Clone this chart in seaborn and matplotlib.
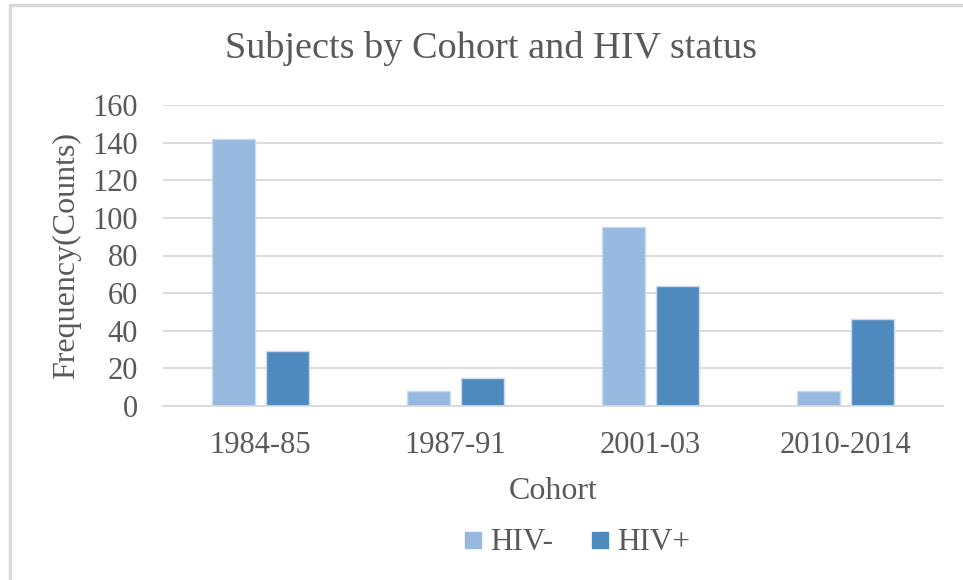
import pandas as pd
import matplotlib.pyplot as plt
import seaborn as sns
from matplotlib.lines import Line2D

# Values
cohorts = ['1984-85', '1987-91', '2001-03', '2010-2014']
hiv_neg = [142, 8, 95, 8]
hiv_pos = [29, 15, 64, 46]
statuses = ['HIV-', 'HIV+']
y_ticks = [0, 20, 40, 60, 80, 100, 120, 140, 160]

colors = {'HIV-': '#98b9df', 'HIV+': '#4f8abe'}
text_col = '#595959'
grid_col = '#d9d9d9'

df = pd.DataFrame({
    'Cohort': cohorts * 2,
    'Status': ['HIV-'] * len(cohorts) + ['HIV+'] * len(cohorts),
    'Count': hiv_neg + hiv_pos,
})

sns.set_style('white')
plt.rcParams['font.family'] = ['Liberation Serif', 'DejaVu Serif']

fig = plt.figure(figsize=(9.63, 5.8), dpi=100)
ax = fig.add_axes([163 / 963, 1 - 406 / 580, 780 / 963, 301 / 580])

sns.barplot(data=df, x='Cohort', y='Count', hue='Status', hue_order=statuses,
            palette=colors, saturation=1, width=0.561, gap=0.214,
            edgecolor='#c9dbf0', linewidth=1, legend=False, ax=ax)

ax.set_ylim(0, 160)
ax.set_yticks(y_ticks)
ax.set_xlim(-0.5, len(cohorts) - 0.5)
ax.yaxis.grid(True, color=grid_col, linewidth=1.3)
ax.set_axisbelow(True)
for side in ['top', 'right', 'left']:
    ax.spines[side].set_visible(False)
ax.spines['bottom'].set_color(grid_col)
ax.spines['bottom'].set_linewidth(1.3)
ax.tick_params(axis='both', length=0, labelsize=22, colors=text_col)
ax.tick_params(axis='x', pad=18)
ax.tick_params(axis='y', pad=18)

ax.set_xlabel('Cohort', fontsize=23, color=text_col, labelpad=12)
ax.set_ylabel('Frequency(Counts)', fontsize=23, color=text_col, labelpad=8)

fig.text(491 / 963, 1 - 48 / 580, 'Subjects by Cohort and HIV status',
         ha='center', va='center', fontsize=27.5, color=text_col)

handles = [Line2D([], [], marker='s', linestyle='none', markersize=12,
                  markerfacecolor=colors[s], markeredgecolor=colors[s])
           for s in statuses]
fig.legend(handles, statuses, loc='center', bbox_to_anchor=(577 / 963, 1 - 543 / 580),
           ncol=2, frameon=False, fontsize=22.5, labelcolor=text_col,
           handlelength=0.6, handletextpad=0.25, columnspacing=1.2)

# chart frame (top and left edges visible in the reference)
fig.add_artist(Line2D([10 / 963, 10 / 963], [0, 1 - 5 / 580], transform=fig.transFigure,
                      color=grid_col, linewidth=2.5))
fig.add_artist(Line2D([10 / 963, 1], [1 - 5 / 580, 1 - 5 / 580], transform=fig.transFigure,
                      color=grid_col, linewidth=2.5))

fig.savefig('out.png', dpi=100, facecolor='white')
